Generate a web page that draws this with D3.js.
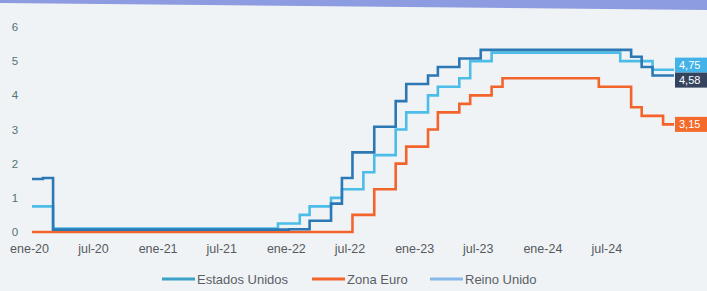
<!DOCTYPE html>
<html>
<head>
<meta charset="utf-8">
<script src="https://cdn.jsdelivr.net/npm/d3@7"></script>
<style>
  html, body { margin: 0; padding: 0; background: #f0f3f5; }
  svg { display: block; }
</style>
</head>
<body>
<svg id="chart" width="707" height="291"></svg>
<script>
// monthly policy rates, ene-20 .. dic-24 (60 months)
const months = d3.range(60).map((i) => new Date(2020, i, 1));

const usRates = [
  1.55, 1.58, 0.07, 0.07, 0.07, 0.07, 0.07, 0.07, 0.07, 0.07, 0.07, 0.07,
  0.07, 0.07, 0.07, 0.07, 0.07, 0.07, 0.07, 0.07, 0.07, 0.07, 0.07, 0.07,
  0.08, 0.08, 0.33, 0.33, 0.83, 1.58, 2.33, 2.33, 3.08, 3.08, 3.83, 4.33,
  4.33, 4.58, 4.83, 4.83, 5.08, 5.08, 5.33, 5.33, 5.33, 5.33, 5.33, 5.33,
  5.33, 5.33, 5.33, 5.33, 5.33, 5.33, 5.33, 5.33, 5.13, 4.83, 4.58, 4.58
];
const euroRates = [
  0, 0, 0, 0, 0, 0, 0, 0, 0, 0, 0, 0,
  0, 0, 0, 0, 0, 0, 0, 0, 0, 0, 0, 0,
  0, 0, 0, 0, 0, 0, 0.5, 0.5, 1.25, 1.25, 2.0, 2.5,
  2.5, 3.0, 3.5, 3.5, 3.75, 4.0, 4.0, 4.25, 4.5, 4.5, 4.5, 4.5,
  4.5, 4.5, 4.5, 4.5, 4.5, 4.25, 4.25, 4.25, 3.65, 3.4, 3.4, 3.15
];
const ukRates = [
  0.75, 0.75, 0.1, 0.1, 0.1, 0.1, 0.1, 0.1, 0.1, 0.1, 0.1, 0.1,
  0.1, 0.1, 0.1, 0.1, 0.1, 0.1, 0.1, 0.1, 0.1, 0.1, 0.1, 0.25,
  0.25, 0.5, 0.75, 0.75, 1.0, 1.25, 1.25, 1.75, 2.25, 2.25, 3.0, 3.5,
  3.5, 4.0, 4.25, 4.25, 4.5, 5.0, 5.0, 5.25, 5.25, 5.25, 5.25, 5.25,
  5.25, 5.25, 5.25, 5.25, 5.25, 5.25, 5.25, 5.0, 5.0, 5.0, 4.75, 4.75
];

const yTicks = [0, 1, 2, 3, 4, 5, 6];
const xTickDates = d3.range(0, 60, 6).map((i) => new Date(2020, i, 1));
const monthNames = ['ene', 'feb', 'mar', 'abr', 'may', 'jun', 'jul', 'ago', 'sep', 'oct', 'nov', 'dic'];

const series = [
  { name: 'Estados Unidos', values: usRates, color: '#2c78b4', legend: '#3aa2c6', box: '#34445f' },
  { name: 'Zona Euro', values: euroRates, color: '#f2642c', legend: '#f2642c', box: '#f36a2a' },
  { name: 'Reino Unido', values: ukRates, color: '#4cbde8', legend: '#86b9ea', box: '#43b2e8' }
];

const font = 'Liberation Sans, Arial, sans-serif';
const svg = d3.select('#chart');

// strip of the slide header at the top
svg.append('polygon')
  .attr('points', '0,0 707,0 707,10 0,3')
  .attr('fill', '#8d9be0');

const x = d3.scaleTime()
  .domain([new Date(2020, 0, 1), new Date(2025, 0, 1)])
  .range([32, 674]);
const y = d3.scaleLinear().domain([0, 6]).range([232, 27]);

// y labels
svg.append('g')
  .selectAll('text')
  .data(yTicks)
  .join('text')
  .attr('x', 15)
  .attr('y', (d) => y(d))
  .attr('dy', '0.35em')
  .attr('text-anchor', 'middle')
  .attr('font-family', font)
  .attr('font-size', 11.5)
  .attr('fill', '#4f7478')
  .text((d) => d);

// x labels
const xAxis = d3.axisBottom(x)
  .tickValues(xTickDates)
  .tickSize(0)
  .tickPadding(0)
  .tickFormat((d) => monthNames[d.getMonth()] + '-' + String(d.getFullYear()).slice(2));
const gx = svg.append('g').attr('transform', 'translate(-3,244)').call(xAxis);
gx.select('.domain').remove();
gx.selectAll('text')
  .attr('font-family', font)
  .attr('font-size', 12.5)
  .attr('fill', '#555a60');

const line = d3.line()
  .x((d) => x(d.date))
  .y((d) => y(d.v))
  .curve(d3.curveStepAfter);

series.forEach((s) => {
  const pts = s.values.map((v, i) => ({ date: months[i], v }));
  pts.push({ date: new Date(2025, 0, 1), v: s.values[s.values.length - 1] });
  s.last = s.values[s.values.length - 1];
  s.pts = pts;
});

// draw euro first, then UK, then US on top
[series[1], series[2], series[0]].forEach((s) => {
  svg.append('path')
    .datum(s.pts)
    .attr('fill', 'none')
    .attr('stroke', s.color)
    .attr('stroke-width', 2.6)
    .attr('d', line);
});

// end value boxes, pushed apart when they overlap
const boxH = 15;
const tags = series.map((s) => ({ s, cy: y(s.last) })).sort((a, b) => a.cy - b.cy);
for (let i = 1; i < tags.length; i++) {
  const gap = tags[i].cy - tags[i - 1].cy;
  if (gap < boxH) {
    const mid = (tags[i].cy + tags[i - 1].cy) / 2;
    tags[i - 1].cy = mid - boxH / 2;
    tags[i].cy = mid + boxH / 2;
  }
}
const tag = svg.append('g').selectAll('g').data(tags).join('g')
  .attr('transform', (d) => `translate(675,${d.cy})`);
tag.append('rect')
  .attr('x', 0)
  .attr('y', -boxH / 2)
  .attr('width', 40)
  .attr('height', boxH)
  .attr('fill', (d) => d.s.box);
tag.append('text')
  .attr('x', 4)
  .attr('dy', '0.36em')
  .attr('font-family', font)
  .attr('font-size', 11)
  .attr('fill', '#ffffff')
  .text((d) => d3.format('.2f')(d.s.last).replace('.', ','));

// legend
const legendX = [162, 312, 430];
const leg = svg.append('g').selectAll('g').data(series).join('g')
  .attr('transform', (d, i) => `translate(${legendX[i]},279)`);
leg.append('line')
  .attr('x1', 0).attr('x2', 33)
  .attr('stroke', (d) => d.legend)
  .attr('stroke-width', 3);
leg.append('text')
  .attr('x', 35)
  .attr('dy', '0.35em')
  .attr('font-family', font)
  .attr('font-size', 13)
  .attr('fill', '#5a5f66')
  .text((d) => d.name);
</script>
</body>
</html>
